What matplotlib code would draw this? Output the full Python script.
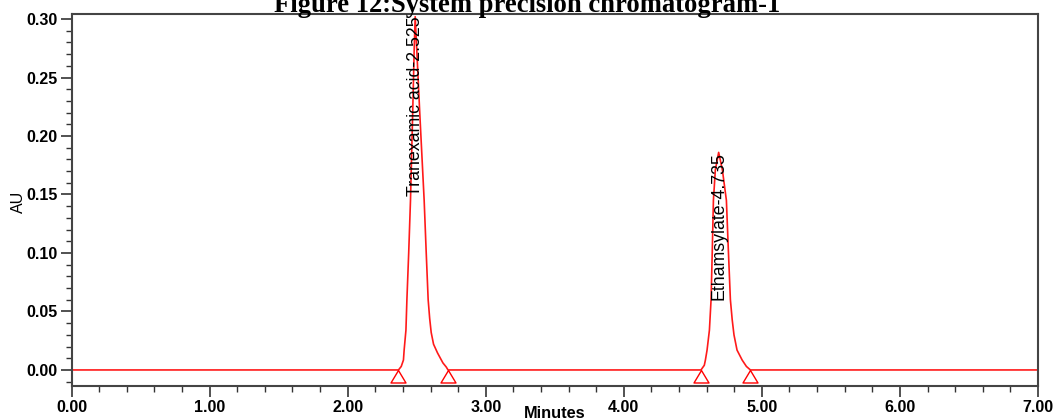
import numpy as np
import matplotlib
matplotlib.use('Agg')
import matplotlib.pyplot as plt
from matplotlib.path import Path
from matplotlib.ticker import MultipleLocator, FormatStrFormatter

# 数据: 色谱峰轮廓 (时间 min, 吸光度 AU)
run_start, run_end = 0.0, 7.0

peak1_time = [2.368, 2.388, 2.404, 2.409, 2.422, 2.429, 2.442, 2.455, 2.471, 2.482, 2.489,
              2.500, 2.522, 2.554, 2.569, 2.583, 2.594, 2.605, 2.622, 2.651, 2.690, 2.714, 2.727]
peak1_au = [0.000, 0.003, 0.0085, 0.017, 0.034, 0.060, 0.100, 0.145, 0.220, 0.275, 0.302,
            0.275, 0.220, 0.145, 0.100, 0.060, 0.044, 0.032, 0.022, 0.0145, 0.006, 0.0025, 0.000]

peak2_time = [4.559, 4.583, 4.591, 4.603, 4.620, 4.632, 4.641, 4.649, 4.663, 4.687,
              4.714, 4.743, 4.757, 4.772, 4.785, 4.798, 4.820, 4.857, 4.888, 4.917]
peak2_au = [0.000, 0.004, 0.0085, 0.017, 0.034, 0.060, 0.103, 0.145, 0.171, 0.186,
            0.171, 0.145, 0.103, 0.060, 0.043, 0.030, 0.017, 0.0085, 0.003, 0.000]

peak_names = ['Tranexamic acid-2.525', 'Ethamsylate-4.735']
peak_bounds = [2.368, 2.727, 4.559, 4.917]

# 拼接完整色谱
trace_time = [run_start] + peak1_time + peak2_time + [run_end]
trace_au = [0.0] + peak1_au + peak2_au + [0.0]

plt.rcParams['font.family'] = ['Liberation Sans', 'DejaVu Sans']

fig = plt.figure(figsize=(10.55, 4.2), dpi=100)
ax = fig.add_axes([0.0678, 0.081, 0.9161, 0.8857])

ax.plot(trace_time, trace_au, color='#ff1a1a', lw=1.2)

# 峰起止标记 (空心三角, 顶点在基线)
tri = Path([(0, 0), (-0.6, -1.0), (0.6, -1.0), (0, 0)],
           [Path.MOVETO, Path.LINETO, Path.LINETO, Path.CLOSEPOLY])
ax.plot(peak_bounds, [0.0] * len(peak_bounds), linestyle='none', marker=tri,
        markersize=18, markerfacecolor='none', markeredgecolor='#ff0000', markeredgewidth=1.0)

# 峰标签
for name, t, h in [(peak_names[0], peak1_time[int(np.argmax(peak1_au))], max(peak1_au)),
                   (peak_names[1], peak2_time[int(np.argmax(peak2_au))], max(peak2_au))]:
    ax.text(t, h, name, rotation=90, ha='center', va='top', fontsize=12.8, color='black')

ax.set_xlim(run_start, run_end)
ax.set_ylim(-0.0137, 0.3043)

ax.xaxis.set_major_locator(MultipleLocator(1.0))
ax.xaxis.set_minor_locator(MultipleLocator(0.2))
ax.yaxis.set_major_locator(MultipleLocator(0.05))
ax.yaxis.set_minor_locator(MultipleLocator(0.01))
ax.xaxis.set_major_formatter(FormatStrFormatter('%.2f'))
ax.yaxis.set_major_formatter(FormatStrFormatter('%.2f'))

ax.tick_params(axis='both', which='major', direction='out', length=8, width=1.2,
               color='#333333', labelsize=11.5, pad=2)
ax.tick_params(axis='both', which='minor', direction='out', length=4, width=1.0, color='#333333')
for lbl in ax.get_xticklabels() + ax.get_yticklabels():
    lbl.set_fontweight('bold')

for side in ['left', 'right', 'top', 'bottom']:
    ax.spines[side].set_color('#444444')
    ax.spines[side].set_linewidth(1.5)

fig.text(555 / 1055, 1 - 413 / 420, 'Minutes', ha='center', va='center',
         fontsize=11.8, fontweight='bold')
fig.text(18 / 1055, 1 - 202 / 420, 'AU', ha='center', va='center', rotation=90, fontsize=11.5)

fig.text(0.5, 1 - 12 / 420, 'Figure 12:System precision chromatogram-1', ha='center',
         va='baseline', fontsize=19.2, fontweight='bold', family=['Liberation Serif', 'DejaVu Serif'])

fig.savefig('out.png', dpi=100)
